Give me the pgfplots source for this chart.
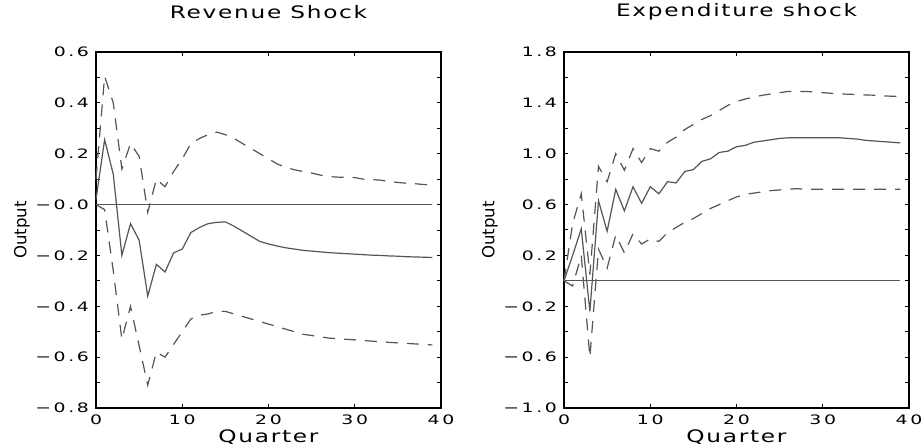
\documentclass[border=0pt]{standalone}
\usepackage{fontspec}
\setmainfont{DejaVu Sans}
\newfontfamily\titlefont[FakeStretch=1.35,LetterSpace=10]{DejaVu Sans}
\newfontfamily\tickfont[FakeStretch=1.45,LetterSpace=20]{DejaVu Sans}
\newfontfamily\ylabfont{DejaVu Sans}
\usepackage{pgfplots}
\pgfplotsset{compat=1.18}
\usepackage{pgfplotstable}
\definecolor{curve}{RGB}{85,85,85}

\pgfplotstableread{
x mid up lo
0 0.02 0.10 0.00
1 0.255 0.505 -0.02
2 0.12 0.40 -0.26
3 -0.20 0.14 -0.53
4 -0.075 0.24 -0.40
5 -0.14 0.19 -0.555
6 -0.36 -0.03 -0.71
7 -0.235 0.10 -0.58
8 -0.265 0.07 -0.60
9 -0.19 0.13 -0.55
10 -0.175 0.18 -0.50
11 -0.11 0.24 -0.45
12 -0.09 0.26 -0.435
13 -0.075 0.275 -0.43
14 -0.07 0.285 -0.42
15 -0.068 0.275 -0.42
16 -0.085 0.26 -0.43
17 -0.105 0.24 -0.44
18 -0.125 0.22 -0.45
19 -0.145 0.20 -0.46
20 -0.155 0.18 -0.47
21 -0.163 0.16 -0.48
22 -0.17 0.146 -0.49
23 -0.175 0.137 -0.50
24 -0.18 0.13 -0.51
25 -0.183 0.124 -0.515
26 -0.186 0.116 -0.52
27 -0.189 0.11 -0.525
28 -0.191 0.108 -0.528
29 -0.193 0.107 -0.53
30 -0.195 0.106 -0.532
31 -0.197 0.10 -0.535
32 -0.199 0.098 -0.537
33 -0.200 0.096 -0.54
34 -0.202 0.09 -0.542
35 -0.203 0.087 -0.544
36 -0.205 0.084 -0.546
37 -0.206 0.082 -0.548
38 -0.207 0.079 -0.55
39 -0.208 0.077 -0.552
}\revenue

\pgfplotstableread{
x mid up lo
0 0.0 0.0 0.0
1 0.2 0.45 -0.04
2 0.41 0.685 0.20
3 -0.24 0.05 -0.60
4 0.63 0.90 0.25
5 0.39 0.78 0.10
6 0.72 1.00 0.36
7 0.55 0.87 0.22
8 0.74 1.04 0.37
9 0.61 0.93 0.29
10 0.74 1.04 0.33
11 0.685 1.02 0.31
12 0.78 1.09 0.38
13 0.77 1.13 0.42
14 0.86 1.19 0.46
15 0.875 1.23 0.49
16 0.94 1.27 0.53
17 0.96 1.30 0.57
18 1.01 1.34 0.60
19 1.02 1.38 0.63
20 1.055 1.41 0.66
21 1.065 1.43 0.68
22 1.09 1.445 0.69
23 1.10 1.46 0.70
24 1.11 1.47 0.71
25 1.12 1.48 0.715
26 1.125 1.49 0.72
27 1.125 1.49 0.725
28 1.125 1.49 0.72
29 1.125 1.485 0.72
30 1.125 1.48 0.72
31 1.125 1.475 0.72
32 1.125 1.47 0.72
33 1.12 1.468 0.72
34 1.115 1.465 0.72
35 1.105 1.462 0.72
36 1.10 1.46 0.72
37 1.095 1.455 0.72
38 1.09 1.452 0.72
39 1.085 1.45 0.72
}\expend

\pgfplotsset{myaxis/.style={
  width=172.5pt, height=178pt, scale only axis,
  xmin=0, xmax=40, xtick={0,10,20,30,40},
  tick align=inside, major tick length=2pt, minor tick length=2pt,
  axis line style={black, line width=0.9pt},
  tick style={black, line width=0.5pt},
  /pgf/number format/assume math mode=true,
  ticklabel style={font=\tickfont\fontsize{6.5}{7}\selectfont},
  title style={font=\titlefont\fontsize{8.6}{10}\selectfont, at={(axis description cs:0.5,1.079)}, anchor=center},
  xlabel style={font=\titlefont\fontsize{8.6}{10}\selectfont, at={(axis description cs:0.5,-0.081)}, anchor=center},
  ylabel style={font=\ylabfont\fontsize{8.3}{9}\selectfont, at={(axis description cs:-0.215,0.5)}, anchor=center},
  xlabel={Quarter}, ylabel={Output},
  every axis plot/.append style={line width=0.6pt, color=curve},
  clip=false,
}}

\begin{document}
\begin{tikzpicture}
\useasboundingbox (0,0) rectangle (461pt,222pt);
\begin{axis}[myaxis, at={(48pt,18pt)}, anchor=south west,
  title={Revenue Shock},
  ymin=-0.8, ymax=0.6,
  ytick={-0.8,-0.6,-0.4,-0.2,0,0.2,0.4,0.6},
  yticklabels={−0.8,−0.6,−0.4,−0.2,−0.0,0.2,0.4,0.6},
  minor ytick={-0.7,-0.5,-0.3,-0.1,0.1,0.3,0.5},
]
\addplot[curve] coordinates {(0,0) (39,0)};
\addplot[curve] table[x=x,y=mid] {\revenue};
\addplot[curve, dash pattern=on 6pt off 4.5pt] table[x=x,y=up] {\revenue};
\addplot[curve, dash pattern=on 6pt off 4.5pt] table[x=x,y=lo] {\revenue};
\end{axis}
\begin{axis}[myaxis, at={(282pt,18pt)}, anchor=south west,
  title={Expenditure shock},
  ymin=-1.0, ymax=1.8,
  ytick={-1.0,-0.6,-0.2,0.2,0.6,1.0,1.4,1.8},
  yticklabels={−1.0,−0.6,−0.2,0.2,0.6,1.0,1.4,1.8},
  minor ytick={-0.8,-0.4,0,0.4,0.8,1.2,1.6},
]
\addplot[curve] coordinates {(0,0) (39,0)};
\addplot[curve] table[x=x,y=mid] {\expend};
\addplot[curve, dash pattern=on 6pt off 4.5pt] table[x=x,y=up] {\expend};
\addplot[curve, dash pattern=on 6pt off 4.5pt] table[x=x,y=lo] {\expend};
\end{axis}
\end{tikzpicture}
\end{document}
